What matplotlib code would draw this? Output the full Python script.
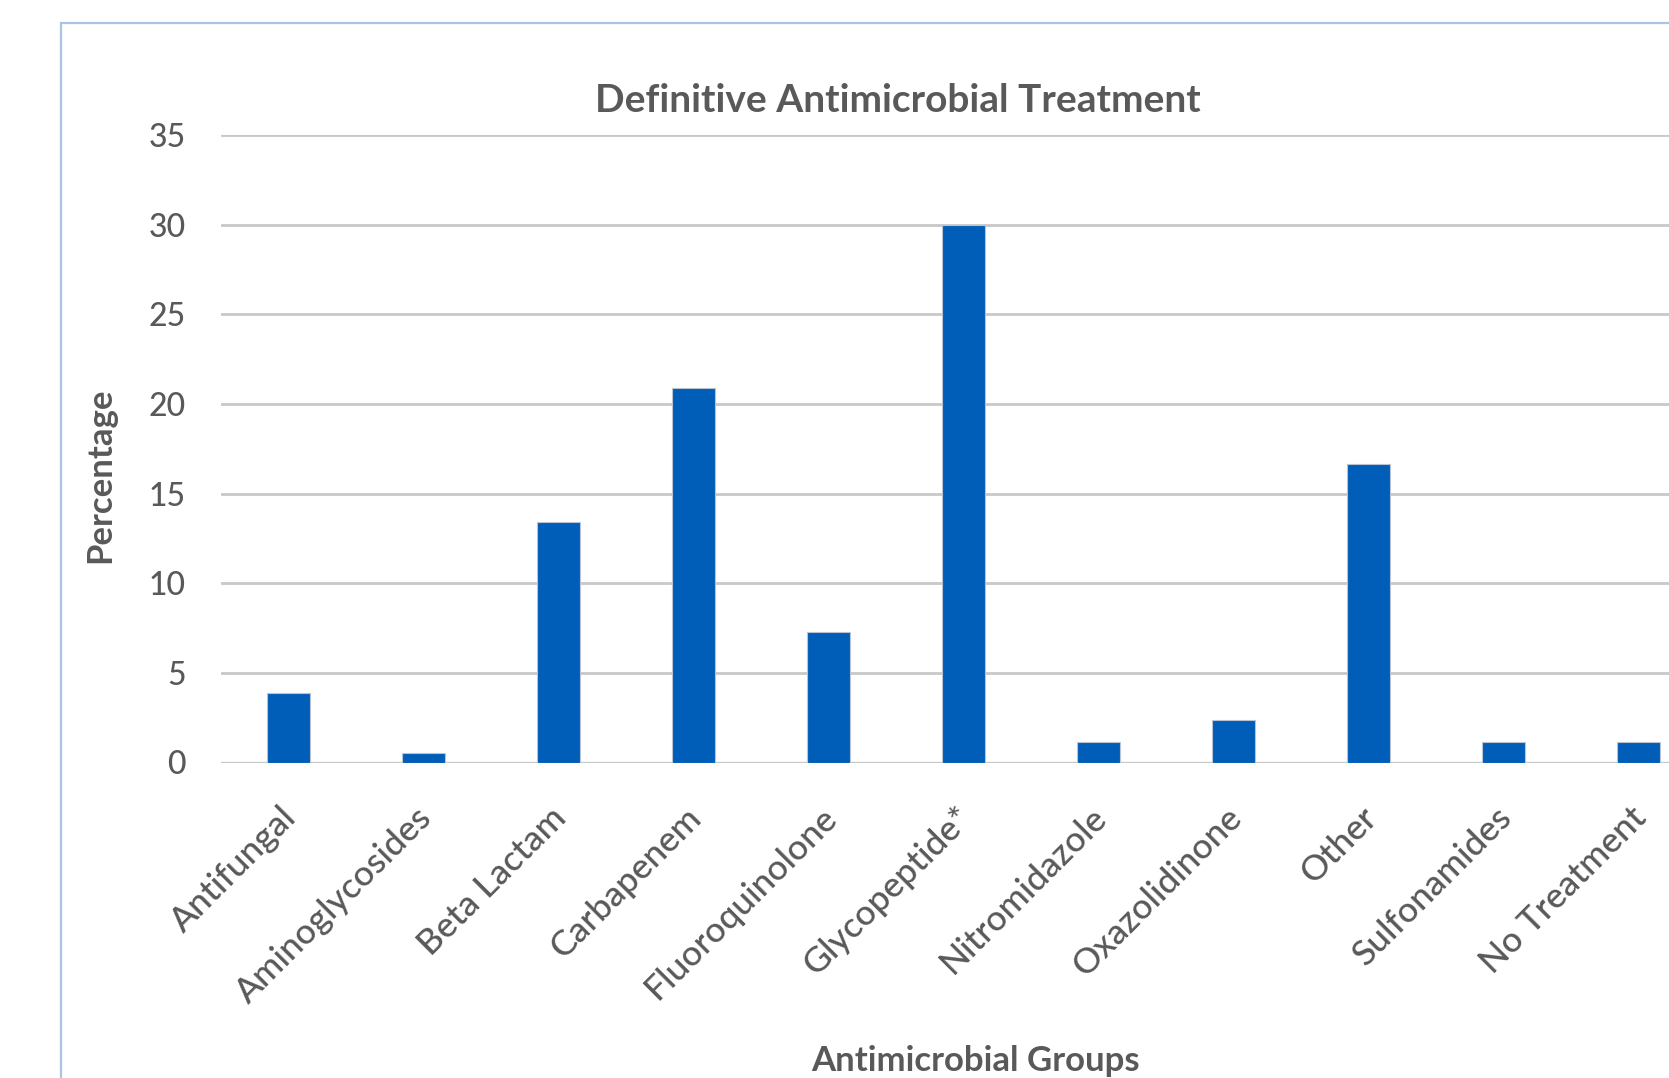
import numpy as np
import matplotlib
matplotlib.use("Agg")
import matplotlib.pyplot as plt
from matplotlib.patches import Rectangle
from matplotlib.transforms import ScaledTranslation

plt.rcParams['font.family'] = ['Lato', 'DejaVu Sans']

groups = ['Antifungal', 'Aminoglycosides', 'Beta Lactam', 'Carbapenem',
          'Fluoroquinolone', 'Glycopeptide*', 'Nitromidazole', 'Oxazolidinone',
          'Other', 'Sulfonamides', 'No Treatment']
pct = [3.9, 0.55, 13.4, 20.9, 7.3, 30.0, 1.15, 2.35, 16.65, 1.15, 1.15]
yticks = [0, 5, 10, 15, 20, 25, 30, 35]

grey = '#595959'
bar_blue = '#005EB8'

fig = plt.figure(figsize=(16.69, 10.78), dpi=100)

# chart-area frame (only the top and left edges fall inside the canvas)
fig.patches.append(Rectangle((61 / 1669, -0.2), 2.0, 1.2 - 23 / 1078,
                             transform=fig.transFigure, fill=False,
                             edgecolor='#a9c5e3', linewidth=1.6))

# plot area runs past the right edge of the canvas
ax = fig.add_axes([221 / 1669, (1078 - 762.5) / 1078,
                   1485 / 1669, (762.5 - 135) / 1078])

x = np.arange(len(groups))
ax.bar(x, pct, width=0.32, color=bar_blue, edgecolor='#b8c4d4',
       linewidth=0.8, zorder=3)

ax.set_xlim(-0.5, len(groups) - 0.5)
ax.set_ylim(0, 35)
ax.set_yticks(yticks)
ax.yaxis.grid(True, color='#c8c8c8', linewidth=2.0, zorder=0)
for s in ['top', 'right', 'left', 'bottom']:
    ax.spines[s].set_visible(False)
ax.axhline(0, color='#c8c8c8', linewidth=2.4, zorder=2)

ax.tick_params(axis='both', length=0, labelcolor=grey)
ax.tick_params(axis='y', pad=25.5, labelsize=23)
ax.tick_params(axis='x', labelsize=25.5)

ax.set_xticks(x)
ax.set_xticklabels(groups, rotation=45, ha='right', va='center',
                   rotation_mode='anchor', fontweight='medium')
for lab in ax.get_yticklabels():
    lab.set_fontweight('medium')
shift = ScaledTranslation(3 / 100, -45 / 100, fig.dpi_scale_trans)
for lab in ax.get_xticklabels():
    lab.set_transform(lab.get_transform() + shift)

fig.text(898 / 1669, 1 - 100 / 1078, 'Definitive Antimicrobial Treatment',
         ha='center', va='center', fontsize=28, fontweight='bold', color=grey)
fig.text(100 / 1669, 1 - 475 / 1078, 'Percentage', rotation=90,
         ha='center', va='center', fontsize=25, fontweight='bold', color=grey)
fig.text(975 / 1669, 1 - 1061 / 1078, 'Antimicrobial Groups',
         ha='center', va='center', fontsize=25, fontweight='bold', color=grey)

fig.savefig('out.png', dpi=100)
